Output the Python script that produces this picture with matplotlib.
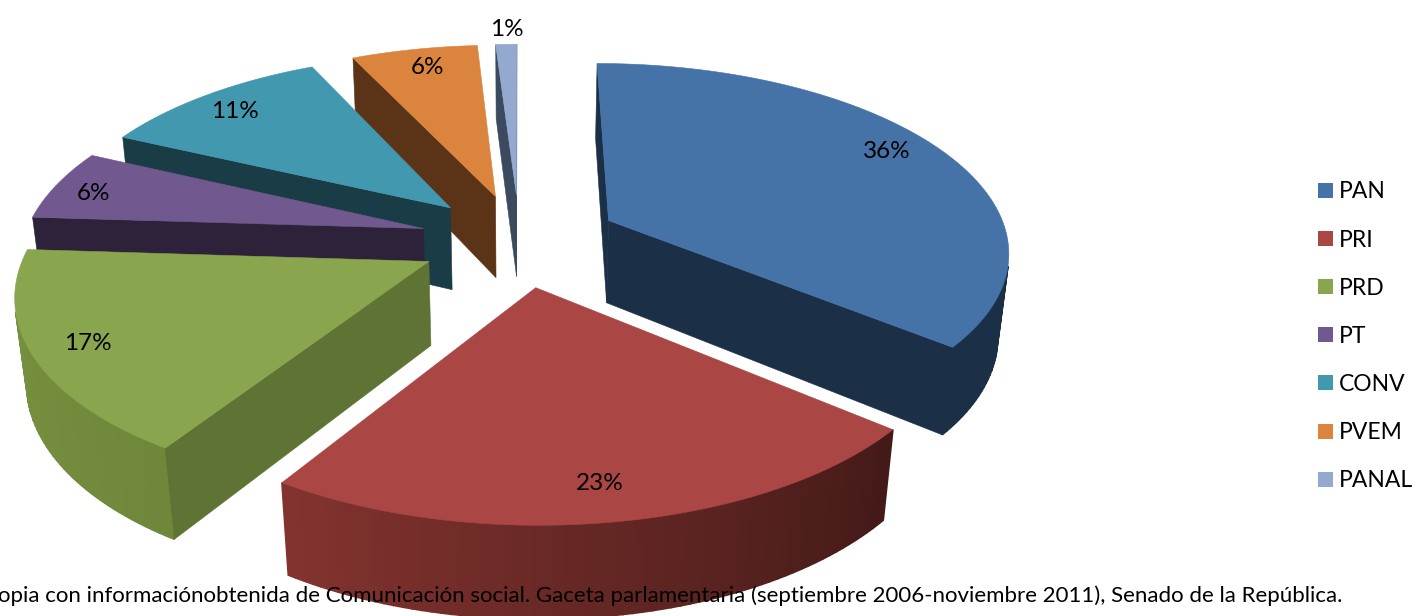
import matplotlib
matplotlib.use('Agg')  # Non-interactive backend
import matplotlib.pyplot as plt
from matplotlib.colors import to_rgb
from matplotlib.patches import Polygon, Rectangle
import numpy as np

parties = ['PAN', 'PRI', 'PRD', 'PT', 'CONV', 'PVEM', 'PANAL']
shares = [36, 23, 17, 6, 11, 6, 1]
pct_labels = ['36%', '23%', '17%', '6%', '11%', '6%', '1%']

top_colors = ['#4572a7', '#aa4643', '#89a54e', '#71588f', '#4198af', '#db843d', '#93a9cf']
side_colors = ['#1b2f47', '#421a18', '#5f7335', '#2d2239', '#1a3c47', '#5b3417', '#3b4a5f']
# outer wall runs from the first colour to the second along the arc
wall_colors = [('#1b2f47', '#1b2f47'), ('#431a18', '#83332f'), ('#6f873b', '#7a933f'),
               ('#2d2239', '#2d2239'), ('#1a3c47', '#1a3c47'), ('#5b3417', '#5b3417'),
               ('#3b4a5f', '#3b4a5f')]

label_xy = [(887, 152), (600, 484), (88, 344), (93, 194), (235, 111), (427, 67), (507, 29)]
draw_order = [6, 5, 4, 3, 0, 2, 1]

# projection of the tilted pie, fitted to the picture (pixels)
CX, CY = 519.5, 240
SX, SY = 400, 186
TILT = 0.15
DEPTH = 85
SHRINK = 0.023
EXPLODE = 0.25
FONT = 'Lato'


def project(x, y, z):
    w = 1 + TILT * y + SHRINK * z
    return CX + SX * x / w, CY + (-SY * y + DEPTH * z) / w


def area(pts):
    xs, ys = np.array(pts).T
    return np.sum(xs * np.roll(ys, -1) - np.roll(xs, -1) * ys)


def add_face(ax, pts, color, lw=0.4):
    # back faces are skipped, the top of the slice hides what is behind
    if area(pts) < 0:
        ax.add_patch(Polygon(pts, closed=True, facecolor=color, edgecolor=color, linewidth=lw))


fig = plt.figure(figsize=(14.15, 6.16), dpi=100)
ax = fig.add_axes([0, 0, 1, 1])
ax.set_xlim(0, 1415)
ax.set_ylim(616, 0)
ax.axis('off')

edges = np.cumsum([0] + shares) / sum(shares) * 2 * np.pi

for i in draw_order:
    a0, a1 = edges[i], edges[i + 1]
    mid = (a0 + a1) / 2
    ox, oy = EXPLODE * np.sin(mid), EXPLODE * np.cos(mid)
    angles = np.linspace(a0, a1, max(4, shares[i] * 3))

    rim_x = ox + np.sin(angles)
    rim_y = oy + np.cos(angles)
    top = [project(x, y, 0) for x, y in zip(rim_x, rim_y)]
    bottom = [project(x, y, 1) for x, y in zip(rim_x, rim_y)]
    apex_t = project(ox, oy, 0)
    apex_b = project(ox, oy, 1)

    # outer wall first, the cut faces sit on top of its seams
    c0, c1 = (np.array(to_rgb(c)) for c in wall_colors[i])
    for k in range(len(angles) - 1):
        t = k / max(1, len(angles) - 2)
        add_face(ax, [top[k], top[k + 1], bottom[k + 1], bottom[k]], tuple(c0 + (c1 - c0) * t), lw=1.2)

    add_face(ax, [apex_t, top[0], bottom[0], apex_b], side_colors[i])
    add_face(ax, [apex_t, apex_b, bottom[-1], top[-1]], side_colors[i])

    ax.add_patch(Polygon([apex_t] + top, closed=True, facecolor=top_colors[i],
                         edgecolor=top_colors[i], linewidth=0.4))

for (x, y), lab in zip(label_xy, pct_labels):
    ax.text(x, y, lab, ha='center', va='center', fontsize=17.5, family=FONT, color='black')

for i, name in enumerate(parties):
    y = 190.5 + i * 48.1
    ax.add_patch(Rectangle((1318, y - 7.5), 15, 15, facecolor=top_colors[i], edgecolor='none'))
    ax.text(1339, y + 1.5, name, ha='left', va='center', fontsize=16.5, family=FONT, color='black')

ax.text(-2, 596, 'opia con informaciónobtenida de Comunicación social. Gaceta parlamentaria '
        '(septiembre 2006-noviembre 2011), Senado de la República.',
        ha='left', va='center', fontsize=16, family=FONT, color='black')

fig.savefig('out.png', dpi=100)
